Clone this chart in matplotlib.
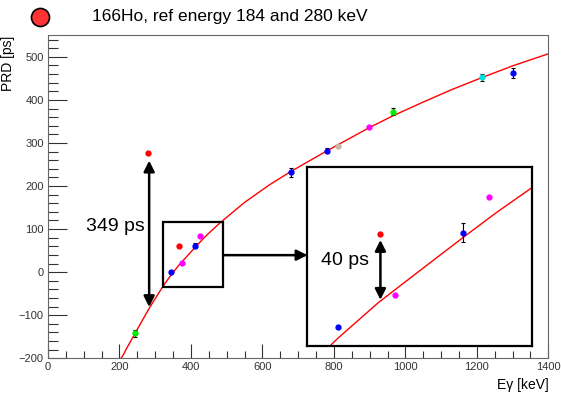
import numpy as np
import matplotlib
matplotlib.use('Agg')
import matplotlib.pyplot as plt
from matplotlib.lines import Line2D
from matplotlib.ticker import MultipleLocator

plt.rcParams['font.family'] = ['Liberation Sans', 'DejaVu Sans']

# measured points: energy [keV], PRD [ps], error [ps]
energy = [244, 281, 344, 367, 375, 412, 426, 680, 781, 811, 899, 965, 1215, 1301]
prd = [-142, 277, 0, 60, 21, 61, 84, 232, 282, 294, 338, 373, 452, 463]
prd_err = [8, 0, 0, 0, 0, 6, 0, 11, 6, 0, 0, 8, 8, 12]
colors = ['#00ee00', '#ff0000', '#0000ff', '#ff0000', '#ff00ff', '#0000ff', '#ff00ff',
          '#0000ff', '#0000ff', '#c8b4a0', '#ff00ff', '#00ee00', '#00e0e0', '#0000ff']

# fitted PRD curve
fit_e = [204, 210, 220, 245, 283, 323, 344, 366, 390, 412, 430, 448, 482, 550, 620, 680,
         781, 900, 965, 1050, 1130, 1215, 1300, 1400]
fit_prd = [-200, -193, -177, -140, -84, -31, -7, 16, 38, 58, 74, 89, 115, 162, 203, 234,
           282, 336, 363, 395, 424, 452, 479, 507]

fig = plt.figure(figsize=(5.61, 3.93), dpi=100)
ax = fig.add_axes([0.0856, 0.0883, 0.8918, 0.8219])

def draw_points(a, lw_err=0.8):
    a.plot(fit_e, fit_prd, color='red', lw=1.0, zorder=2)
    for e, p, s, c in zip(energy, prd, prd_err, colors):
        if s > 0:
            a.errorbar(e, p, yerr=s, fmt='none', ecolor='black', elinewidth=lw_err,
                       capsize=1.5, capthick=lw_err, zorder=3)
        a.plot(e, p, 'o', color=c, ms=3.5, mec=c, zorder=4)

draw_points(ax)
ax.set_xlim(0, 1400)
ax.set_ylim(-200, 550)
ax.xaxis.set_major_locator(MultipleLocator(200))
ax.xaxis.set_minor_locator(MultipleLocator(50))
ax.yaxis.set_major_locator(MultipleLocator(100))
ax.yaxis.set_minor_locator(MultipleLocator(20))
ax.tick_params(axis='both', which='both', direction='in', labelsize=8, colors='#333333')
ax.tick_params(axis='y', which='major', length=14, width=0.8, pad=3)
ax.tick_params(axis='y', which='minor', length=7, width=0.8)
ax.tick_params(axis='x', which='major', length=10, width=0.8, pad=3)
ax.tick_params(axis='x', which='minor', length=5, width=0.8)
for sp in ax.spines.values():
    sp.set_color('#666666')
    sp.set_linewidth(0.8)
ax.set_ylabel('PRD [ps]', loc='top', fontsize=10)
ax.yaxis.set_label_coords(-0.066, 1.0)
ax.set_xlabel('Eγ [keV]', loc='right', fontsize=10, labelpad=4)

# annotations in main panel
ax.annotate('', xy=(283, 259), xytext=(283, -81),
            arrowprops=dict(arrowstyle='<|-|>', color='black', lw=1.8, mutation_scale=16,
                            shrinkA=0, shrinkB=0))
ax.text(270, 105, '349 ps', fontsize=14, ha='right', va='center')
ax.add_patch(plt.Rectangle((323, -34), 167, 150, fill=False, ec='black', lw=1.6, zorder=5))
ax.annotate('', xy=(726, 39.5), xytext=(490, 39.5),
            arrowprops=dict(arrowstyle='-|>', color='black', lw=1.8, mutation_scale=16,
                            shrinkA=0, shrinkB=0))

# zoomed inset
ins = fig.add_axes([0.5478, 0.1196, 0.4011, 0.4547])
draw_points(ins)
ins.set_xlim(327.3, 449.5)
ins.set_ylim(-12.1, 103.2)
ins.set_xticks([])
ins.set_yticks([])
for sp in ins.spines.values():
    sp.set_linewidth(1.6)
    sp.set_color('black')
ins.annotate('', xy=(367, 56.3), xytext=(367, 17.7),
             arrowprops=dict(arrowstyle='<|-|>', color='black', lw=1.8, mutation_scale=16,
                             shrinkA=0, shrinkB=0))
ins.text(361, 43, '40 ps', fontsize=14, ha='right', va='center')

# legend-like header
fig.add_artist(Line2D([40 / 561], [1 - 17 / 393], marker='o', ms=13, mfc='#ff3333',
                      mec='black', mew=1.2, transform=fig.transFigure))
fig.text(92 / 561, 1 - 17 / 393, '166Ho, ref energy 184 and 280 keV', fontsize=12.5,
         ha='left', va='center')

fig.savefig('out.png', dpi=100)
